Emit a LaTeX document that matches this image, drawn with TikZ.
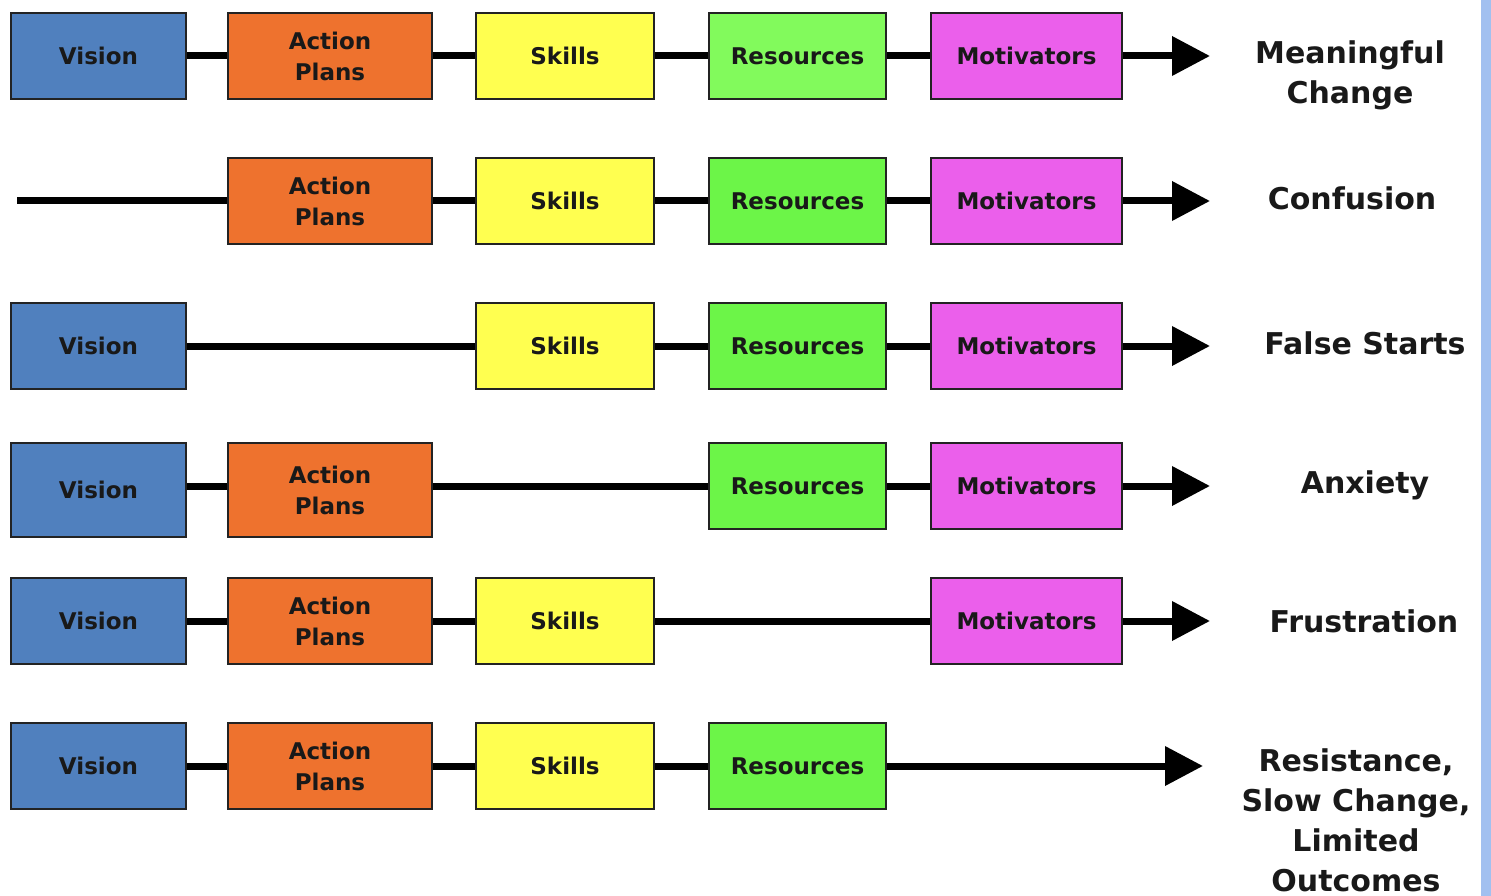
\documentclass[tikz,border=0pt]{standalone}
\usepackage{fontspec}
\setmainfont{DejaVu Sans}
\usetikzlibrary{arrows.meta}
\definecolor{azulv}{RGB}{80,128,190}
\definecolor{naranja}{RGB}{238,114,46}
\definecolor{amarillo}{RGB}{255,255,80}
\definecolor{verdeclaro}{RGB}{130,250,92}
\definecolor{verde}{RGB}{108,245,72}
\definecolor{magenta}{RGB}{235,95,235}
\definecolor{borde}{RGB}{35,35,35}
\definecolor{texto}{RGB}{25,25,25}
\definecolor{franjaazul}{RGB}{162,192,240}
\tikzset{
  etapa/.style={draw=borde,line width=2pt,minimum height=86pt,inner sep=0pt,
    align=center,text=texto,font=\bfseries\fontsize{23}{31}\selectfont},
  vis/.style={etapa,fill=azulv,minimum width=175pt},
  acc/.style={etapa,fill=naranja,minimum width=204pt},
  hab/.style={etapa,fill=amarillo,minimum width=178pt},
  rec/.style={etapa,fill=verde,minimum width=177pt},
  mot/.style={etapa,fill=magenta,minimum width=191pt},
  conector/.style={line width=7pt,black},
  flecha/.style={conector,-{Triangle[length=38pt,width=38pt]}},
  resultado/.style={align=center,inner sep=0pt,text=texto,
    font=\bfseries\fontsize{30}{40}\selectfont}
}

\begin{document}
\begin{tikzpicture}[x=1pt,y=-1pt]
  \useasboundingbox (0,0) rectangle (1491,896);
  \fill[franjaazul] (1481,0) rectangle (1491,896);

  % fila 1
  \node[vis] (vis1) at (98.5,56) {Vision};
  \node[acc] (acc1) at (330,56) {Action\\Plans};
  \node[hab] (hab1) at (565,56) {Skills};
  \node[rec,fill=verdeclaro] (rec1) at (797.5,56) {Resources};
  \node[mot] (mot1) at (1026.5,56) {Motivators};
  \coordinate (fin1) at (1210,56);
  \draw[conector] (vis1) -- (acc1);
  \draw[conector] (acc1) -- (hab1);
  \draw[conector] (hab1) -- (rec1);
  \draw[conector] (rec1) -- (mot1);
  \draw[flecha] (mot1) -- (fin1);
  \node[resultado] (res1) at (1350,75) {Meaningful\\Change};

  % fila 2
  \coordinate (ini2) at (17,201);
  \node[acc] (acc2) at (330,201) {Action\\Plans};
  \node[hab] (hab2) at (565,201) {Skills};
  \node[rec] (rec2) at (797.5,201) {Resources};
  \node[mot] (mot2) at (1026.5,201) {Motivators};
  \coordinate (fin2) at (1210,201);
  \draw[conector] (ini2) -- (acc2);
  \draw[conector] (acc2) -- (hab2);
  \draw[conector] (hab2) -- (rec2);
  \draw[conector] (rec2) -- (mot2);
  \draw[flecha] (mot2) -- (fin2);
  \node[resultado] (res2) at (1352,198) {Confusion};

  % fila 3
  \node[vis] (vis3) at (98.5,346) {Vision};
  \node[hab] (hab3) at (565,346) {Skills};
  \node[rec] (rec3) at (797.5,346) {Resources};
  \node[mot] (mot3) at (1026.5,346) {Motivators};
  \coordinate (fin3) at (1210,346);
  \draw[conector] (vis3) -- (hab3);
  \draw[conector] (hab3) -- (rec3);
  \draw[conector] (rec3) -- (mot3);
  \draw[flecha] (mot3) -- (fin3);
  \node[resultado] (res3) at (1365,343) {False Starts};

  % fila 4
  \node[vis,minimum height=94pt] (vis4) at (98.5,490) {Vision};
  \node[acc,minimum height=94pt] (acc4) at (330,490) {Action\\Plans};
  \node[rec] (rec4) at (797.5,486) {Resources};
  \node[mot] (mot4) at (1026.5,486) {Motivators};
  \coordinate (fin4) at (1210,486);
  \draw[conector] (vis4.east |- rec4) -- (acc4.west |- rec4);
  \draw[conector] (acc4.east |- rec4) -- (rec4);
  \draw[conector] (rec4) -- (mot4);
  \draw[flecha] (mot4) -- (fin4);
  \node[resultado] (res4) at (1365,485) {Anxiety};

  % fila 5
  \node[vis] (vis5) at (98.5,621) {Vision};
  \node[acc] (acc5) at (330,621) {Action\\Plans};
  \node[hab] (hab5) at (565,621) {Skills};
  \node[mot] (mot5) at (1026.5,621) {Motivators};
  \coordinate (fin5) at (1210,621);
  \draw[conector] (vis5) -- (acc5);
  \draw[conector] (acc5) -- (hab5);
  \draw[conector] (hab5) -- (mot5);
  \draw[flecha] (mot5) -- (fin5);
  \node[resultado] (res5) at (1364,621) {Frustration};

  % fila 6
  \node[vis] (vis6) at (98.5,766) {Vision};
  \node[acc] (acc6) at (330,766) {Action\\Plans};
  \node[hab] (hab6) at (565,766) {Skills};
  \node[rec] (rec6) at (797.5,766) {Resources};
  \coordinate (fin6) at (1203,766);
  \draw[conector] (vis6) -- (acc6);
  \draw[conector] (acc6) -- (hab6);
  \draw[conector] (hab6) -- (rec6);
  \draw[flecha] (rec6) -- (fin6);
  \node[resultado] (res6) at (1356,820) {Resistance,\\Slow Change,\\Limited\\Outcomes};
\end{tikzpicture}
\end{document}
